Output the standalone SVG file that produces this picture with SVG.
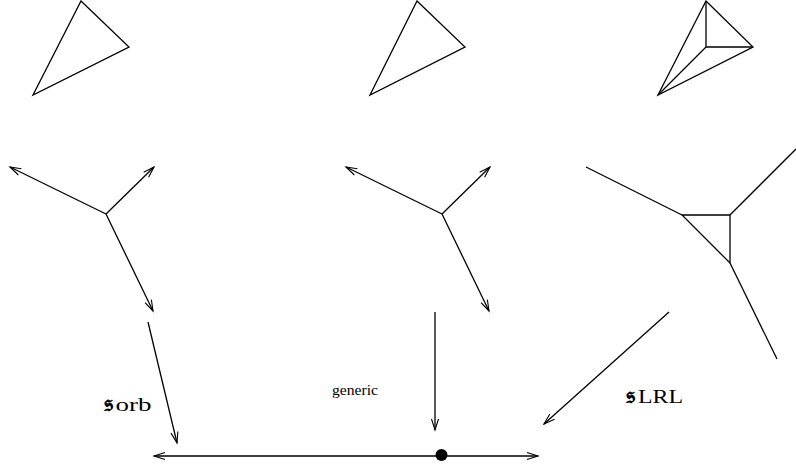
<svg xmlns="http://www.w3.org/2000/svg" width="796" height="469" viewBox="0 0 796 469">
<style>
.ln{fill:none;stroke:#000;stroke-width:1.3;stroke-linejoin:miter}
.ar{marker-end:url(#ah)}
.lbl{font-family:"Liberation Serif","Times New Roman",serif;fill:#000;font-weight:normal}
.frak{font-family:"DejaVu Sans","DejaVu Serif",serif;fill:#000;font-weight:bold}
</style>
<defs>
<marker id="ah" viewBox="-12 -5 14 10" refX="0" refY="0" markerWidth="14" markerHeight="10" markerUnits="userSpaceOnUse" orient="auto">
<path d="M-11,-3.5 L0,0 L-11,3.5" fill="none" stroke="#000" stroke-width="1.1"/>
</marker>
</defs>
<g id="tri1"><polygon class="ln" points="81,1 129,47 33,95"/></g>
<g id="tri2"><polygon class="ln" points="417,1 465,47 370,95"/></g>
<g id="tri3">
<polygon class="ln" points="706,1 753,47 658,95"/>
<polyline class="ln" points="706,1 706,47 753,47"/>
<line class="ln" x1="706" y1="47" x2="658" y2="95"/>
</g>
<g id="tripod1">
<line class="ln ar" x1="106" y1="214" x2="10" y2="167"/>
<line class="ln ar" x1="106" y1="214" x2="154" y2="167"/>
<line class="ln ar" x1="106" y1="214" x2="153" y2="311"/>
</g>
<g id="tripod2">
<line class="ln ar" x1="442" y1="214" x2="346" y2="167"/>
<line class="ln ar" x1="442" y1="214" x2="490" y2="167"/>
<line class="ln ar" x1="442" y1="214" x2="489" y2="311"/>
</g>
<g id="tripod3">
<line class="ln" x1="682" y1="215" x2="586" y2="167"/>
<polygon class="ln" points="682,215 730,215 730,263"/>
<line class="ln" x1="730" y1="215" x2="796" y2="149"/>
<line class="ln" x1="730" y1="263" x2="777" y2="359"/>
</g>
<g id="axis">
<line class="ln ar" x1="441" y1="456" x2="154" y2="456"/>
<line class="ln ar" x1="441" y1="456" x2="538" y2="456"/>
<circle cx="441.5" cy="455" r="6" fill="#000"/>
</g>
<g id="connectors">
<line class="ln ar" x1="148" y1="322" x2="177" y2="443"/>
<line class="ln ar" x1="435" y1="312" x2="435" y2="430"/>
<line class="ln ar" x1="669" y1="312" x2="544" y2="424"/>
</g>
<g id="labels">
<text class="frak" x="104" y="411" font-size="24">𝔰</text>
<text class="lbl" x="115.5" y="411" font-size="18" textLength="36" lengthAdjust="spacingAndGlyphs">orb</text>
<text class="lbl" x="332" y="395" font-size="14" textLength="46" lengthAdjust="spacingAndGlyphs">generic</text>
<text class="frak" x="626" y="403" font-size="24">𝔰</text>
<text class="lbl" x="638" y="403" font-size="18" textLength="45" lengthAdjust="spacingAndGlyphs">LRL</text>
</g>
</svg>
